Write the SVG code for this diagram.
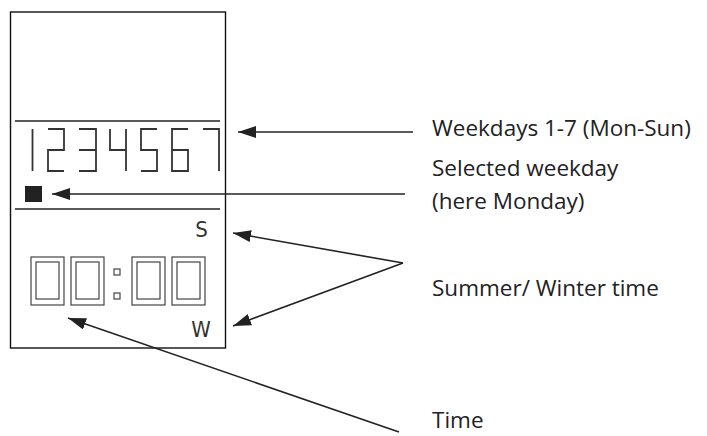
<svg xmlns="http://www.w3.org/2000/svg" width="707" height="436" viewBox="0 0 707 436">
<style>
.frame{fill:none;stroke:#111;stroke-width:1.4}
.rule{stroke:#222;stroke-width:1.6}
.seg{fill:none;stroke:#333;stroke-width:1.8;stroke-linejoin:miter}
.cell{fill:none;stroke:#444;stroke-width:1.2}
.lbl{font-family:"Open Sans","Noto Sans",sans-serif;font-size:22.5px;fill:#222}
.lcd{font-family:"DejaVu Sans Condensed","DejaVu Sans",sans-serif;font-size:22px;fill:#333}
.conn{fill:none;stroke:#222;stroke-width:1.6;marker-end:url(#ah)}
</style>
<defs>
<marker id="ah" markerUnits="userSpaceOnUse" markerWidth="18" markerHeight="12" refX="18" refY="6" orient="auto">
<path d="M0,0 L18,6 L0,12 z" fill="#222"/>
</marker>
</defs>
<rect width="707" height="436" fill="#fff"/>
<g id="display">
<rect class="frame" x="10.5" y="12" width="215" height="336"/>
<line class="rule" x1="15" y1="121" x2="220" y2="121"/>
<line class="rule" x1="15" y1="209" x2="220" y2="209"/>
</g>
<g id="weekdays">
<path class="seg" d="M32.5,129 V171"/>
<path class="seg" d="M48,129 H64 V150 H48 V171 H64"/>
<path class="seg" d="M79,129 H96 V171 H79 M79,150 H96"/>
<path class="seg" d="M110,129 V150 H126 M126,129 V171"/>
<path class="seg" d="M157,129 H141 V150 H157 V171 H141"/>
<path class="seg" d="M188,129 H172 V171 H188 V150 H172"/>
<path class="seg" d="M203,129 H219 V171"/>
</g>
<g id="selected-marker">
<rect x="25" y="186" width="17" height="16" fill="#222"/>
</g>
<g id="time-display">
<rect class="cell" x="31" y="257" width="33" height="48"/>
<rect class="cell" x="36" y="262" width="23" height="37"/>
<rect class="cell" x="71" y="257" width="33" height="48"/>
<rect class="cell" x="76" y="262" width="23" height="37"/>
<rect class="cell" x="132" y="257" width="33" height="48"/>
<rect class="cell" x="137" y="262" width="23" height="37"/>
<rect class="cell" x="172" y="257" width="33" height="48"/>
<rect class="cell" x="177" y="262" width="23" height="37"/>
<rect class="cell" x="114" y="269" width="6" height="6"/>
<rect class="cell" x="114" y="293" width="6" height="6"/>
</g>
<g id="season-indicators">
<text class="lcd" x="201.5" y="237" text-anchor="middle">S</text>
<text class="lcd" x="201" y="337" text-anchor="middle">W</text>
</g>
<g id="connectors">
<path class="conn" d="M413,132 H238"/>
<path class="conn" d="M405,194 H52"/>
<path class="conn" d="M403,263 L233,233"/>
<path class="conn" d="M403,263 L233,326"/>
<path class="conn" d="M399,432 L68,318"/>
</g>
<g id="labels">
<text class="lbl" x="432" y="136">Weekdays 1-7 (Mon-Sun)</text>
<text class="lbl" x="432" y="176">Selected weekday</text>
<text class="lbl" x="432" y="209">(here Monday)</text>
<text class="lbl" x="432" y="296">Summer/ Winter time</text>
<text class="lbl" x="432" y="428">Time</text>
</g>
</svg>
